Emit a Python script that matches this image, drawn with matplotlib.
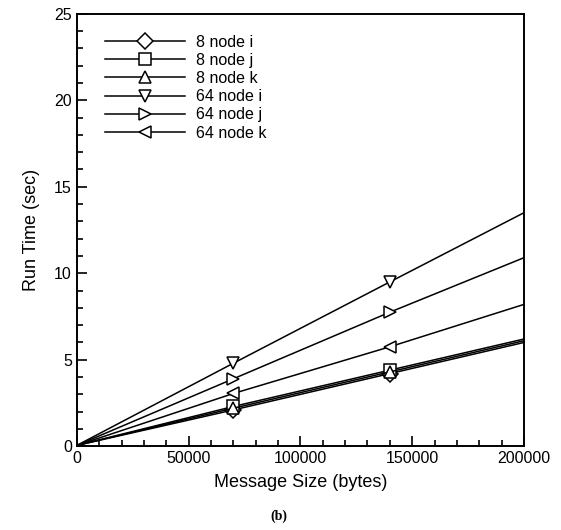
"""Run time vs message size, 8 and 64 node runs (panel b)."""
import matplotlib
matplotlib.use("Agg")
import matplotlib.pyplot as plt
from matplotlib.ticker import MultipleLocator

plt.rcParams["font.family"] = ["Liberation Sans", "DejaVu Sans"]

msg_size = [0, 70000, 140000, 200000]

labels = ["8 node i", "8 node j", "8 node k", "64 node i", "64 node j", "64 node k"]
markers = ["D", "s", "^", "v", ">", "<"]
run_time = [
    [0.05, 2.1, 4.2, 6.0],
    [0.05, 2.3, 4.4, 6.2],
    [0.05, 2.2, 4.3, 6.1],
    [0.05, 4.8, 9.5, 13.5],
    [0.05, 3.9, 7.75, 10.9],
    [0.05, 3.05, 5.75, 8.2],
]

fig = plt.figure(figsize=(5.61, 5.30), dpi=100)
ax = fig.add_axes([0.137, 0.158, 0.797, 0.816])

for lab, mk, ys in zip(labels, markers, run_time):
    ax.plot(msg_size, ys, color="black", lw=1.1, marker=mk, markersize=8,
            markerfacecolor="white", markeredgecolor="black", markeredgewidth=1.1,
            markevery=[1, 2], label=lab)

ax.set_xlim(0, 200000)
ax.set_ylim(0, 25)
ax.xaxis.set_major_locator(MultipleLocator(50000))
ax.xaxis.set_minor_locator(MultipleLocator(10000))
ax.yaxis.set_major_locator(MultipleLocator(5))
ax.yaxis.set_minor_locator(MultipleLocator(1))
ax.tick_params(which="both", direction="in", labelsize=11.5, width=1.2)
ax.tick_params(which="major", length=7)
ax.tick_params(which="minor", length=4)
for sp in ax.spines.values():
    sp.set_linewidth(1.4)

ax.set_xlabel("Message Size (bytes)", fontsize=13, labelpad=6)
ax.set_ylabel("Run Time (sec)", fontsize=13, labelpad=10)

ax.legend(loc="upper left", bbox_to_anchor=(0.03, 0.985), frameon=False,
          fontsize=11.5, handlelength=5.0, handletextpad=0.7, labelspacing=0.2)

fig.text(0.497, 0.02, "(b)", ha="center", fontsize=10, family="Liberation Serif",
         weight="bold")

fig.savefig("out.png", dpi=100)
